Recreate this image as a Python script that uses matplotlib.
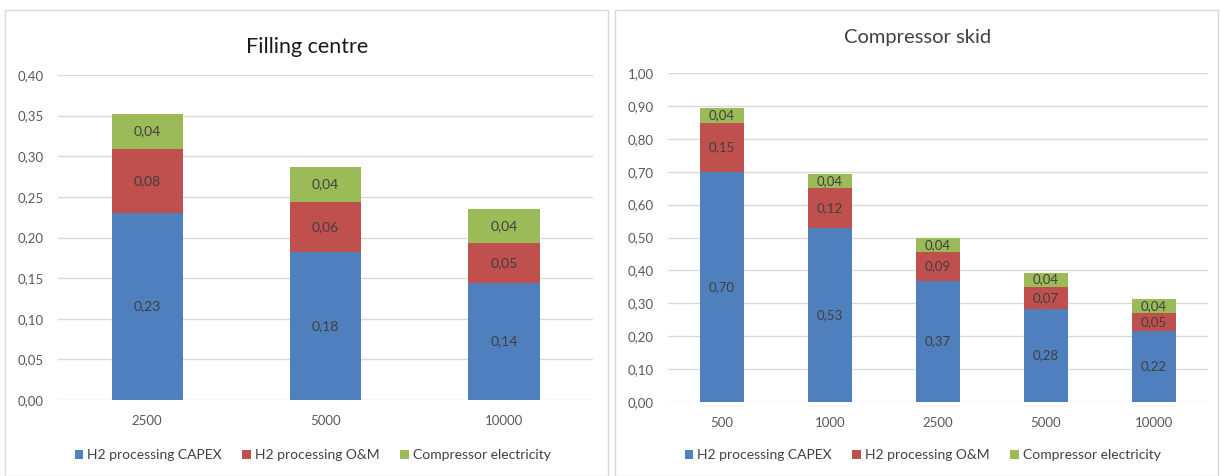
import matplotlib.pyplot as plt
import numpy as np
from matplotlib.patches import Rectangle

plt.rcParams['font.family'] = ['Lato', 'DejaVu Sans']

# cost breakdown per station size
fill_sizes = ['2500', '5000', '10000']
fill_capex = [0.230, 0.182, 0.144]
fill_om = [0.079, 0.062, 0.049]
fill_elec = [0.043, 0.043, 0.042]

skid_sizes = ['500', '1000', '2500', '5000', '10000']
skid_capex = [0.700, 0.530, 0.368, 0.282, 0.217]
skid_om = [0.149, 0.119, 0.088, 0.069, 0.053]
skid_elec = [0.044, 0.044, 0.043, 0.042, 0.043]

series_names = ['H2 processing CAPEX', 'H2 processing O&M', 'Compressor electricity']
colors = ['#4f7fbc', '#c0504d', '#9bbb59']
txt = '#404040'


def fmt(v):
    return ('%.2f' % v).replace('.', ',')


def stacked(ax, cats, parts, ymax, step, lblsize):
    x = np.arange(len(cats))
    bottom = np.zeros(len(cats))
    for vals, c, name in zip(parts, colors, series_names):
        vals = np.array(vals)
        ax.bar(x, vals, 0.4, bottom=bottom, color=c, label=name, zorder=3)
        for xi, b, v in zip(x, bottom, vals):
            ax.text(xi, b + v / 2, fmt(v), ha='center', va='center',
                    fontsize=lblsize, color=txt, zorder=4)
        bottom = bottom + vals
    ax.set_xlim(-0.5, len(cats) - 0.5)
    ax.set_ylim(0, ymax)
    ticks = np.arange(0, ymax + step / 2, step)
    ax.set_yticks(ticks)
    ax.set_yticklabels([fmt(t) for t in ticks])
    ax.set_xticks(x)
    ax.set_xticklabels(cats)
    ax.grid(axis='y', color='#d9d9d9', lw=1, zorder=0)
    for s in ax.spines.values():
        s.set_visible(False)
    ax.tick_params(length=0, labelsize=9.5, colors='#595959', pad=10)
    ax.tick_params(axis='x', pad=11)


fig = plt.figure(figsize=(12.2, 4.76), dpi=100)

# panel frames
fig.patches.append(Rectangle((5 / 1220, 0), 603 / 1220, 466 / 476, transform=fig.transFigure,
                             fill=False, ec='#d9d9d9', lw=1))
fig.patches.append(Rectangle((615 / 1220, 0), 603 / 1220, 466 / 476, transform=fig.transFigure,
                             fill=False, ec='#d9d9d9', lw=1))

ax1 = fig.add_axes([58 / 1220, 76 / 476, 535 / 1220, 325 / 476])
stacked(ax1, fill_sizes, [fill_capex, fill_om, fill_elec], 0.40, 0.05, 10)
fig.text(307 / 1220, 1 - 47 / 476, 'Filling centre', ha='center', va='center',
         fontsize=15.5, color='#1a1a1a')

ax2 = fig.add_axes([668 / 1220, 74 / 476, 540 / 1220, 329 / 476])
stacked(ax2, skid_sizes, [skid_capex, skid_om, skid_elec], 1.00, 0.10, 9.5)
fig.text(918 / 1220, 1 - 38 / 476, 'Compressor skid', ha='center', va='center',
         fontsize=14.5, color='#404040')

for ax, x0 in [(ax1, 62 / 1220), (ax2, 672 / 1220)]:
    h, l = ax.get_legend_handles_labels()
    fig.legend(h, l, loc='center left', bbox_to_anchor=(x0, 1 - 455 / 476), ncol=3,
               frameon=False, fontsize=10, handlelength=0.6, handleheight=0.6,
               handletextpad=0.3, columnspacing=1.5, labelcolor='#404040')

fig.savefig('out.png', dpi=100)
